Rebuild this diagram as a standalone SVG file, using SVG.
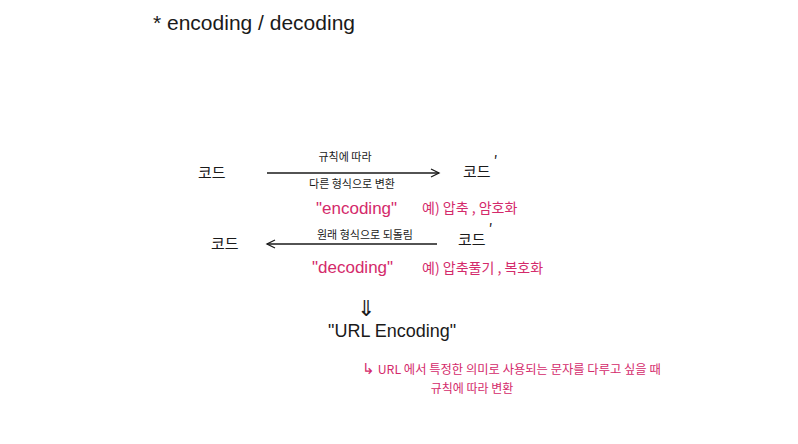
<svg xmlns="http://www.w3.org/2000/svg" width="798" height="444" viewBox="0 0 798 444">
<defs>
<style>
.k{font-family:"Noto Sans CJK KR","Noto Sans",sans-serif;fill:#1a1a1a}
.e{font-family:"Liberation Sans","Noto Sans",sans-serif;fill:#1a1a1a}
.p{fill:#d42a6b}
.s{font-size:11px}
.m{font-size:15px}
.ln{stroke:#1a1a1a;stroke-width:1.3;fill:none}
</style>
<marker id="ah" markerWidth="12" markerHeight="12" refX="9" refY="5" orient="auto" markerUnits="userSpaceOnUse">
<path d="M1,1 L9,5 L1,9" fill="none" stroke="#1a1a1a" stroke-width="1.3"/>
</marker>
</defs>
<rect width="798" height="444" fill="#ffffff"/>
<g id="title"><text class="e" x="153" y="30" font-size="21">* encoding / decoding</text></g>
<g id="connectors">
<line class="ln" x1="267" y1="173" x2="439" y2="173" marker-end="url(#ah)"/>
<line class="ln" x1="437" y1="244" x2="267" y2="244" marker-end="url(#ah)"/>
</g>
<g id="code1"><text class="k m" x="198" y="178">코드</text></g>
<g id="code1p"><text class="k m" x="463" y="177">코드<tspan dx="3" dy="-10">′</tspan></text></g>
<g id="enc-labels">
<text class="k s" x="345" y="161" text-anchor="middle">규칙에 따라</text>
<text class="k s" x="352" y="188" text-anchor="middle">다른 형식으로 변환</text>
</g>
<g id="encoding">
<text class="e p" x="316" y="214" font-size="17">"encoding"</text>
<text class="k p" x="422" y="213" font-size="14">예) 압축 , 암호화</text>
</g>
<g id="code2"><text class="k m" x="211" y="249">코드</text></g>
<g id="code2p"><text class="k m" x="458" y="245">코드<tspan dx="3" dy="-10">′</tspan></text></g>
<g id="dec-label"><text class="k s" x="365" y="239" text-anchor="middle">원래 형식으로 되돌림</text></g>
<g id="decoding">
<text class="e p" x="312" y="273" font-size="17">"decoding"</text>
<text class="k p" x="422" y="273" font-size="14">예) 압축풀기 , 복호화</text>
</g>
<g id="down"><text class="k" x="366" y="316" font-size="22" text-anchor="middle">⇓</text></g>
<g id="url">
<text class="e" x="328" y="337" font-size="18">"URL Encoding"</text>
</g>
<g id="url-desc">
<text class="k p" x="362" y="374" font-size="12.3"><tspan font-size="15">↳</tspan> URL 에서 특정한 의미로 사용되는 문자를 다루고 싶을 때</text>
<text class="k p" x="472" y="393" font-size="12" text-anchor="middle">규칙에 따라 변환</text>
</g>
</svg>
